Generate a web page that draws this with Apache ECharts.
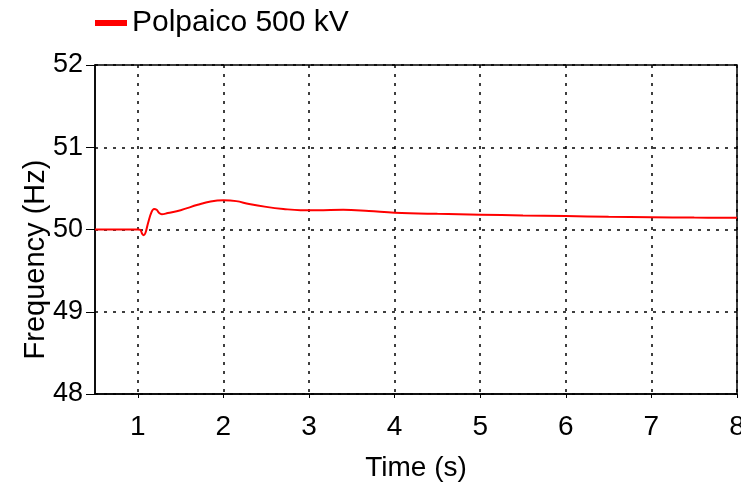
<!DOCTYPE html>
<html>
<head>
<meta charset="utf-8">
<script src="https://cdn.jsdelivr.net/npm/echarts@6/dist/echarts.min.js"></script>
<style>
  html, body { margin: 0; padding: 0; background: #fff; }
  #chart { width: 741px; height: 489px; }
</style>
</head>
<body>
<div id="chart"></div>
<script>
// Bus frequency response after the disturbance at t = 1 s
var seriesName = 'Polpaico 500 kV';
var timeS = [0.5, 1.0, 1.03, 1.05, 1.07, 1.09, 1.12, 1.16, 1.19, 1.22, 1.25, 1.28, 1.35, 1.5, 1.7, 1.85,
             2.0, 2.15, 2.3, 2.5, 2.7, 2.9, 3.1, 3.4, 3.7, 4.0, 4.5, 5.0, 5.5, 6.0, 6.5, 7.0, 7.5, 8.0];
var freqHz = [50.0, 50.0, 49.995, 49.95, 49.93, 49.96, 50.08, 50.21, 50.25, 50.24, 50.2, 50.185, 50.2, 50.235, 50.3, 50.34,
              50.355, 50.345, 50.31, 50.275, 50.25, 50.235, 50.235, 50.24, 50.225, 50.205, 50.19, 50.18, 50.17, 50.163, 50.155, 50.15, 50.145, 50.142];
var xTicks = [1, 2, 3, 4, 5, 6, 7, 8];
var yTicks = [48, 49, 50, 51, 52];

var points = timeS.map(function (t, i) { return [t, freqHz[i]]; });

var chart = echarts.init(document.getElementById('chart'), null, { renderer: 'canvas' });
var tickFont = '"Liberation Sans", Arial, sans-serif';
var titleFont = '"Liberation Sans", Arial, sans-serif';
var gridLine = { show: true, lineStyle: { color: '#000', width: 1.5, type: [3, 6] } };

chart.setOption({
  animation: false,
  backgroundColor: '#fff',
  legend: {
    left: 90,
    top: 3,
    icon: 'rect',
    itemWidth: 32,
    itemHeight: 6,
    textStyle: { fontFamily: titleFont, fontSize: 30, color: '#000' },
    data: [seriesName]
  },
  grid: {
    left: 95, right: 4, top: 65, bottom: 95,
    outerBoundsMode: 'none',
    containLabel: false,
    show: true, borderColor: '#000', borderWidth: 1.5, backgroundColor: 'transparent'
  },
  xAxis: {
    type: 'value',
    min: 0.5,
    max: 8,
    name: 'Time (s)',
    nameLocation: 'middle',
    nameGap: 60,
    nameMoveOverlap: false,
    nameTextStyle: { fontFamily: titleFont, fontSize: 28, color: '#000' },
    axisLine: { show: true, lineStyle: { color: '#000', width: 1.5 } },
    axisTick: { show: true, length: 4, lineStyle: { color: '#000', width: 1 }, customValues: xTicks },
    axisLabel: { margin: 19, fontFamily: tickFont, fontSize: 28, color: '#000', customValues: xTicks, hideOverlap: false },
    splitLine: gridLine
  },
  yAxis: {
    type: 'value',
    min: yTicks[0],
    max: yTicks[yTicks.length - 1],
    interval: 1,
    name: 'Frequency (Hz)',
    nameLocation: 'middle',
    nameRotate: 90,
    nameGap: 45,
    nameMoveOverlap: false,
    nameTextStyle: { fontFamily: titleFont, fontSize: 29, color: '#000', padding: [0, 60, 0, 0] },
    axisLine: { show: true, lineStyle: { color: '#000', width: 1.5 } },
    axisTick: { show: true, length: 9, lineStyle: { color: '#000', width: 1 } },
    axisLabel: { margin: 12, fontFamily: tickFont, fontSize: 27, color: '#000' },
    splitLine: gridLine
  },
  series: [{
    name: seriesName,
    type: 'line',
    data: points,
    smooth: 0.4,
    showSymbol: false,
    lineStyle: { color: '#ff0000', width: 2 },
    itemStyle: { color: '#ff0000' }
  }]
});
</script>
</body>
</html>
